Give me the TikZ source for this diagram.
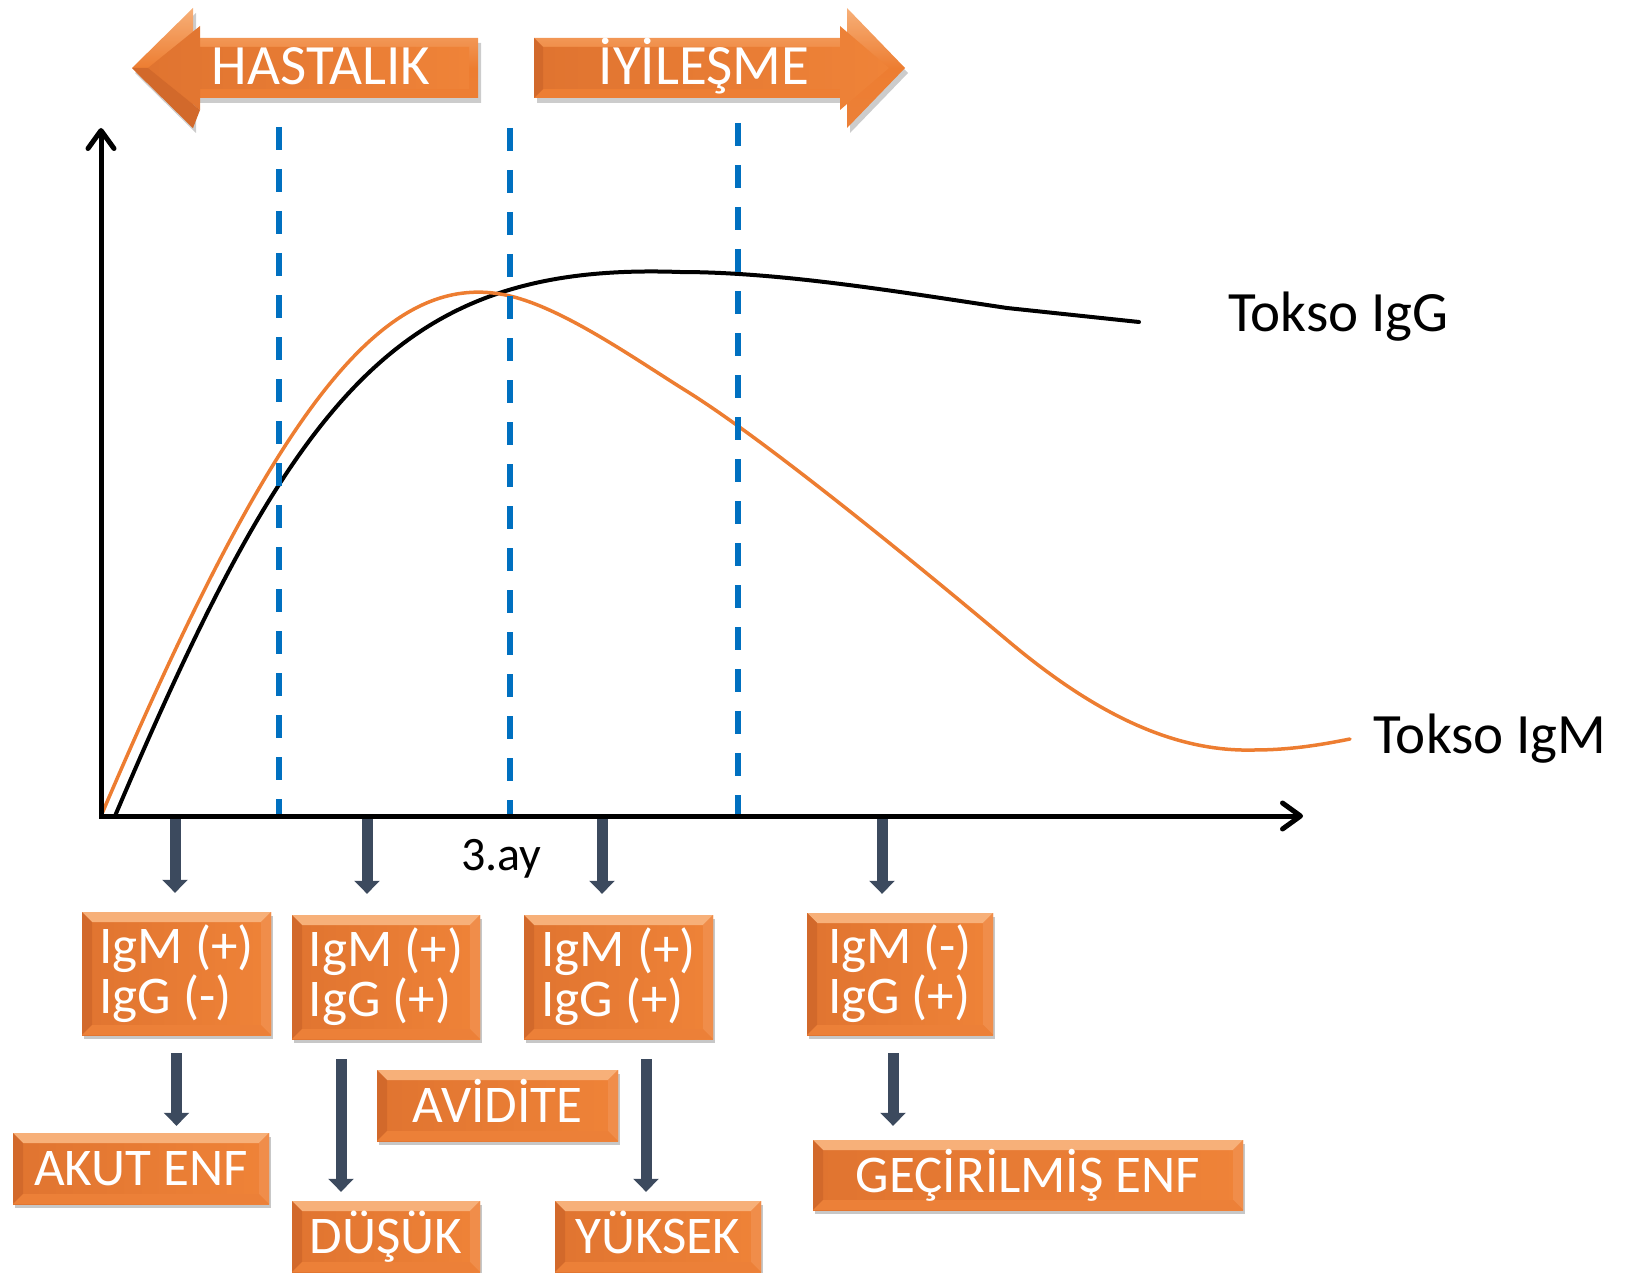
\documentclass[tikz,border=0pt]{standalone}
\usepackage{fontspec}
\setmainfont{Carlito}
\usetikzlibrary{arrows.meta,shadows}
\definecolor{oMain}{HTML}{ED7D31}
\definecolor{oL}{HTML}{E07430}
\definecolor{oR}{HTML}{EF8338}
\definecolor{oTop}{HTML}{F7B079}
\definecolor{oLeft}{HTML}{D2692B}
\definecolor{oRight}{HTML}{F08D4A}
\definecolor{oBot}{HTML}{EC8038}
\definecolor{slate}{HTML}{3C4A5E}
\definecolor{dblue}{HTML}{0070C0}
\definecolor{igm}{HTML}{ED7D31}
\tikzset{
  obox/.style={rectangle, inner sep=0pt, text=white, align=left,
    left color=oL, right color=oR,
    drop shadow={shadow xshift=2pt, shadow yshift=-4pt, fill=black, opacity=0.22},
    path picture={
      \fill[oTop] (path picture bounding box.north west) -- (path picture bounding box.north east)
        -- ([shift={(-10pt,-10pt)}]path picture bounding box.north east)
        -- ([shift={(10pt,-10pt)}]path picture bounding box.north west) -- cycle;
      \fill[oLeft] (path picture bounding box.north west) -- ([shift={(10pt,-10pt)}]path picture bounding box.north west)
        -- ([shift={(10pt,10pt)}]path picture bounding box.south west) -- (path picture bounding box.south west) -- cycle;
      \fill[oRight] (path picture bounding box.north east) -- ([shift={(-10pt,-10pt)}]path picture bounding box.north east)
        -- ([shift={(-10pt,10pt)}]path picture bounding box.south east) -- (path picture bounding box.south east) -- cycle;
      \fill[oBot] (path picture bounding box.south west) -- ([shift={(10pt,10pt)}]path picture bounding box.south west)
        -- ([shift={(-10pt,10pt)}]path picture bounding box.south east) -- (path picture bounding box.south east) -- cycle;
    }},
  twoline/.style={obox, font=\fontsize{53}{50}\selectfont},
  oneline/.style={obox, font=\fontsize{53}{55}\selectfont, text height=34pt, text depth=0pt},
  blk/.style={draw=slate, line width=11pt, -{Triangle[width=25pt,length=13pt]}},
  lbl/.style={inner sep=0pt, text=black, font=\fontsize{57}{60}\selectfont},
  toptxt/.style={inner sep=0pt, text=white, font=\fontsize{57}{60}\selectfont},
  axisline/.style={line width=5pt, line cap=round, line join=miter,
    {Straight Barb[length=18pt,width=26pt,line cap=round,line join=round]}-{Straight Barb[length=18pt,width=26pt,line cap=round,line join=round]}},
  vdash/.style={draw=dblue, line width=6pt, dash pattern=on 23pt off 19pt}
}
\begin{document}
\begin{tikzpicture}[x=1pt,y=-1pt]
\useasboundingbox (0,0) rectangle (1635,1273);

% ---------- top arrows ----------
\fill[black,opacity=0.2] (135,73) -- (196,13) -- (196,43) -- (481,43) -- (481,103) -- (196,103) -- (196,133) -- cycle;
\fill[black,opacity=0.2] (537,43) -- (850,43) -- (850,13) -- (908,73) -- (850,133) -- (850,103) -- (537,103) -- cycle;
% HASTALIK (left)
\shade[top color=oTop, bottom color=oBot, middle color=oMain] (132,68) -- (193,8) -- (193,38) -- (478,38) -- (478,98) -- (193,98) -- (193,128) -- cycle;
\shade[left color=oL, right color=oR] (148,68) -- (200,26) -- (200,47) -- (469,47) -- (469,89) -- (200,89) -- (200,110) -- cycle;
\fill[oLeft] (132,68) -- (148,68) -- (200,110) -- (193,128) -- cycle;
% IYILESME (right)
\shade[top color=oTop, bottom color=oBot, middle color=oMain] (534,38) -- (847,38) -- (847,8) -- (905,68) -- (847,128) -- (847,98) -- (534,98) -- cycle;
\shade[left color=oL, right color=oR] (543,47) -- (840,47) -- (840,26) -- (889,68) -- (840,110) -- (840,89) -- (543,89) -- cycle;
\fill[oLeft] (534,38) -- (543,47) -- (543,89) -- (534,98) -- cycle;
\node[toptxt, anchor=base] (hast) at (321,85) {HASTALIK};
\node[toptxt, anchor=base] (iyi) at (704,85) {İYİLEŞME};

% ---------- curves ----------
\draw[black, line width=4pt, line cap=round, line join=round]
  (115,816) .. controls (295,392) and (400,262) .. (680,272)
  .. controls (780,272) and (900,292) .. (1007,308) -- (1139,322);
\draw[igm, line width=3.5pt, line cap=round, line join=round]
  (101,816) .. controls (270,420) and (380,265) .. (510,296)
  .. controls (565,309) and (638,361) .. (688,392)
  .. controls (760,437) and (900,550) .. (1007,640)
  .. controls (1090,710) and (1170,752) .. (1253,750)
  .. controls (1290,750) and (1320,745) .. (1350,739);

% ---------- dashed lines ----------
\coordinate (d1t) at (279,127); \coordinate (d1b) at (279,816);
\coordinate (d2t) at (510,128); \coordinate (d2b) at (510,816);
\coordinate (d3t) at (738,123); \coordinate (d3b) at (738,816);
\draw[vdash] (d1t) -- (d1b);
\draw[vdash] (d2t) -- (d2b);
\draw[vdash] (d3t) -- (d3b);

% ---------- axes ----------
\coordinate (ytop) at (101,128);
\coordinate (orig) at (101,816);
\coordinate (xend) at (1303,816);
\draw[axisline] (ytop) -- (orig) -- (xend);

% ---------- labels ----------
\node[lbl, anchor=base west] (lg) at (1228,331) {Tokso IgG};
\node[lbl, anchor=base west] (lm) at (1373,753) {Tokso IgM};
\node[lbl, anchor=base west, font=\fontsize{48}{50}\selectfont] (ay) at (461,870) {3.ay};

% ---------- boxes ----------
\node[twoline, minimum width=189pt, minimum height=123pt] (b1) at (176.5,973.5) {IgM (+)\\IgG (-)};
\node[twoline, minimum width=188pt, minimum height=124pt] (b2) at (386,977) {IgM (+)\\IgG (+)};
\node[twoline, minimum width=189pt, minimum height=124pt] (b3) at (618.5,977) {IgM (+)\\IgG (+)};
\node[twoline, minimum width=186pt, minimum height=122pt] (b4) at (900,974) {IgM (-)\\IgG (+)};
\node[oneline, minimum width=256pt, minimum height=71pt] (akut) at (141,1168.5) {AKUT ENF};
\node[oneline, minimum width=241pt, minimum height=71pt] (avid) at (497.5,1105.5) {AVİDİTE};
\node[oneline, minimum width=188pt, minimum height=71pt] (dusuk) at (386,1236.5) {DÜŞÜK};
\node[oneline, minimum width=206pt, minimum height=71pt] (yuksek) at (658,1236.5) {YÜKSEK};
\node[oneline, minimum width=430pt, minimum height=70pt] (gec) at (1028,1175) {GEÇİRİLMİŞ ENF};

% ---------- block arrows ----------
\coordinate (t1) at (175,819);
\coordinate (t2) at (367,819);
\coordinate (t3) at (602,819);
\coordinate (t4) at (882,819);
\coordinate (c6) at (341,0);
\coordinate (c7) at (646,0);
\coordinate (c8) at (893,0);
\draw[blk, shorten >=19pt] (t1) -- (t1 |- b1.north);
\draw[blk, shorten >=21pt] (t2) -- (t2 |- b2.north);
\draw[blk, shorten >=21pt] (t3) -- (t3 |- b3.north);
\draw[blk, shorten >=19pt] (t4) -- (t4 |- b4.north);
\draw[blk, shorten <=18pt, shorten >=7pt] (b1.south) -- (b1.south |- akut.north);
\draw[blk, shorten <=20pt, shorten >=9pt] (b2.south -| c6) -- (dusuk.north -| c6);
\draw[blk, shorten <=20pt, shorten >=9pt] (b3.south -| c7) -- (yuksek.north -| c7);
\draw[blk, shorten <=18pt, shorten >=14pt] (b4.south -| c8) -- (gec.north -| c8);
\end{tikzpicture}
\end{document}
